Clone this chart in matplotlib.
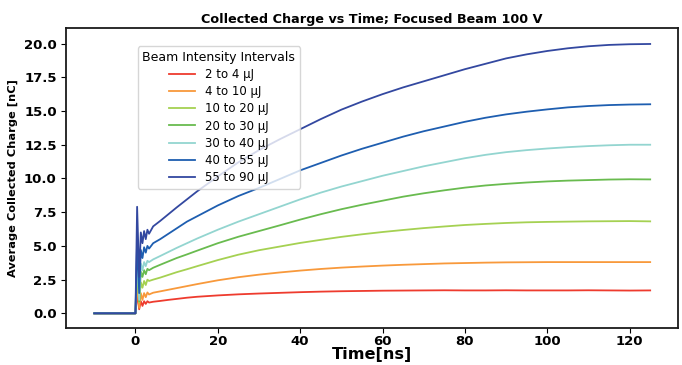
import matplotlib
matplotlib.use("Agg")
import matplotlib.pyplot as plt

# time axis [ns] shared by every series
TIME = [-10, 0, 0.4, 0.9, 1.3, 1.7, 2.1, 2.5, 2.9, 3.3, 4.3, 6, 8, 10, 12.5, 15,
        20, 25, 30, 35, 40, 45, 50, 55, 60, 65, 70, 75, 80, 85, 90, 95, 100,
        105, 110, 115, 120, 125]

LABELS = ["2 to 4 µJ", "4 to 10 µJ", "10 to 20 µJ", "20 to 30 µJ",
          "30 to 40 µJ", "40 to 55 µJ", "55 to 90 µJ"]

Q_2_4 = [0, 0, 1.5, 0.3, 0.9, 0.55, 0.9, 0.7, 0.9, 0.8, 0.86, 0.92, 1.0, 1.07, 1.16, 1.23,
         1.33, 1.41, 1.47, 1.52, 1.57, 1.61, 1.64, 1.66, 1.68, 1.69, 1.7, 1.71, 1.7,
         1.7, 1.71, 1.7, 1.7, 1.7, 1.71, 1.7, 1.69, 1.7]
Q_4_10 = [0, 0, 2.3, 0.4, 1.5, 1.0, 1.5, 1.2, 1.55, 1.4, 1.53, 1.63, 1.75, 1.87, 2.02, 2.17,
          2.45, 2.68, 2.87, 3.03, 3.17, 3.29, 3.39, 3.47, 3.54, 3.6, 3.65, 3.7, 3.73,
          3.76, 3.78, 3.79, 3.8, 3.8, 3.8, 3.8, 3.8, 3.8]
Q_10_20 = [0, 0, 3.3, 0.8, 2.3, 1.9, 2.4, 2.1, 2.5, 2.4, 2.5, 2.65, 2.85, 3.05, 3.27, 3.5,
           3.95, 4.35, 4.68, 4.95, 5.22, 5.45, 5.67, 5.86, 6.03, 6.18, 6.32, 6.44, 6.55,
           6.63, 6.7, 6.75, 6.78, 6.8, 6.82, 6.83, 6.84, 6.82]
Q_20_30 = [0, 0, 4.0, 0.9, 3.1, 2.7, 3.2, 2.9, 3.3, 3.2, 3.38, 3.6, 3.85, 4.1, 4.37, 4.65,
           5.2, 5.68, 6.1, 6.52, 6.95, 7.35, 7.72, 8.05, 8.35, 8.65, 8.9, 9.12, 9.32,
           9.48, 9.6, 9.7, 9.78, 9.84, 9.88, 9.92, 9.94, 9.93]
Q_30_40 = [0, 0, 4.5, 1.0, 3.7, 3.2, 3.8, 3.5, 3.9, 3.8, 4.0, 4.25, 4.55, 4.85, 5.2, 5.55,
           6.2, 6.8, 7.35, 7.9, 8.45, 8.95, 9.4, 9.8, 10.2, 10.55, 10.9, 11.2, 11.5,
           11.75, 11.95, 12.1, 12.22, 12.32, 12.4, 12.46, 12.5, 12.5]
Q_40_55 = [0, 0, 5.5, 1.5, 4.7, 4.1, 4.9, 4.5, 5.0, 4.8, 5.2, 5.5, 5.9, 6.3, 6.8, 7.2,
           8.0, 8.7, 9.3, 9.95, 10.6, 11.15, 11.7, 12.2, 12.65, 13.1, 13.5, 13.85, 14.2,
           14.5, 14.75, 14.95, 15.12, 15.27, 15.37, 15.44, 15.48, 15.5]
Q_55_90 = [0, 0, 7.9, 2.7, 6.0, 5.2, 6.1, 5.5, 6.2, 5.9, 6.45, 6.85, 7.35, 7.85, 8.45, 9.05,
           10.15, 11.2, 12.1, 12.9, 13.65, 14.4, 15.1, 15.7, 16.25, 16.75, 17.2, 17.65,
           18.1, 18.5, 18.9, 19.2, 19.45, 19.65, 19.8, 19.9, 19.95, 19.97]

SERIES = [Q_2_4, Q_4_10, Q_10_20, Q_20_30, Q_30_40, Q_40_55, Q_55_90]
COLORS = ["#ee3b2e", "#f8993b", "#a5d152", "#69bb4f", "#93d5d0", "#1e5eb0", "#3348a0"]

X_TICKS = [0, 20, 40, 60, 80, 100, 120]
Y_TICKS = [0, 2.5, 5, 7.5, 10, 12.5, 15, 17.5, 20]


def main() -> None:
    fig = plt.figure(figsize=(6.82, 3.65), dpi=100)
    ax = fig.add_axes([0.0975, 0.1027, 0.8966, 0.8197])

    for values, color, label in zip(SERIES, COLORS, LABELS):
        ax.plot(TIME, values, color=color, linewidth=1.3, label=label)

    ax.set_xlim(-16.75, 131.75)
    ax.set_ylim(-1.05, 21.13)
    ax.set_xticks(X_TICKS)
    ax.set_yticks(Y_TICKS)
    ax.set_yticklabels([f"{v:.1f}" for v in Y_TICKS])

    for label in ax.get_xticklabels() + ax.get_yticklabels():
        label.set_fontweight("bold")
        label.set_fontsize(9.5)
    ax.tick_params(length=3.5, width=0.8)
    ax.tick_params(axis="x", pad=2)

    for spine in ax.spines.values():
        spine.set_linewidth(1.3)
        spine.set_color("#1a1a1a")

    ax.set_title("Collected Charge vs Time; Focused Beam 100 V",
                 fontsize=9.2, weight="bold", pad=4)
    ax.set_xlabel("Time[ns]", fontsize=11.6, weight="bold", labelpad=-0.8)
    ax.set_ylabel("Average Collected Charge [nC]", fontsize=8.2, weight="bold")

    ax.legend(title="Beam Intensity Intervals", loc="upper left",
              bbox_to_anchor=(0.1165, 0.94), borderaxespad=0,
              fontsize=8.5, title_fontsize=9, labelspacing=0.35,
              handlelength=2.2)

    fig.savefig("out.png", dpi=100)
    plt.close(fig)


if __name__ == "__main__":
    main()
